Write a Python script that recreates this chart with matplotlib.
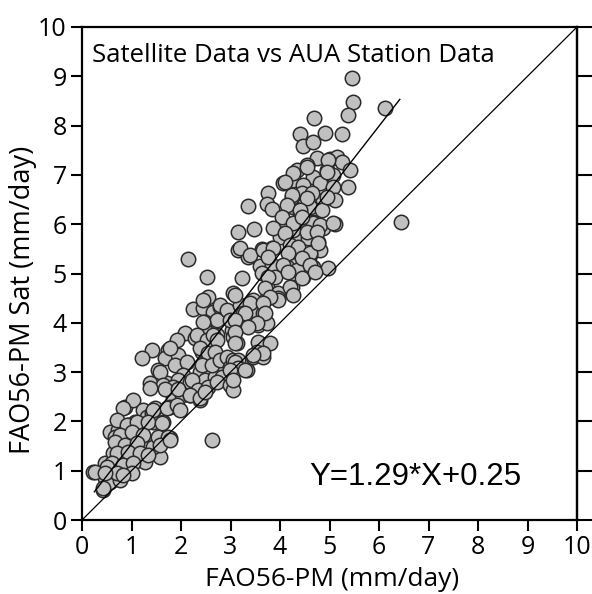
import matplotlib
matplotlib.use("Agg")
import matplotlib.pyplot as plt
import numpy as np

# Station (x) vs satellite (y) reference evapotranspiration, mm/day
station = [
    5.45, 5.47, 5.37, 6.12, 4.69, 4.40, 4.91, 5.25, 4.46, 4.67, 4.75, 5.01, 5.15, 5.25, 5.41, 4.55, 4.34, 4.95,
    4.67, 5.07, 4.26, 4.81, 4.46, 5.37, 5.07, 4.44, 4.61, 5.11, 4.87, 4.26, 4.61, 4.85, 4.40, 4.67, 5.11, 4.87,
    4.46, 4.26, 4.34, 4.77, 4.57, 4.81, 4.61, 4.30, 4.67, 4.97, 4.46, 4.34, 4.24, 6.44,
    3.35, 3.15, 3.47, 3.76, 3.73, 3.83, 4.06, 3.15, 3.35, 3.63, 3.60, 3.84, 3.84, 4.00, 4.06, 4.24, 4.26, 4.14,
    4.20, 3.23, 2.52, 2.14, 2.55, 3.05, 3.73, 3.96, 4.20, 4.34, 3.90,
    4.97, 4.54, 4.27, 4.10, 4.95, 4.65, 4.24, 4.54, 4.95, 4.14, 4.40, 4.04, 4.27, 4.67, 4.81, 5.07, 4.44, 3.86,
    4.10, 4.55, 4.75, 3.19, 3.39, 3.66, 3.86, 4.20, 4.36, 4.61, 4.77, 3.76, 4.16, 4.44, 4.06, 4.61,
    2.24, 2.44, 2.65, 2.79, 2.48, 2.73, 2.08, 1.92, 2.28, 2.55, 2.73, 2.55, 1.74, 1.41, 1.21, 1.68, 1.94, 2.42,
    1.88, 2.12, 2.53, 2.69, 2.85, 1.54, 2.04, 2.38, 2.55, 2.75, 1.37, 1.72, 1.94, 2.18, 2.48, 2.69, 2.89,
    0.22, 0.46, 0.57, 0.46, 0.42, 0.57, 0.77, 0.67, 0.87, 1.01, 1.03, 0.63, 0.71, 0.57, 0.73, 0.67, 0.77, 0.91,
    0.87, 1.03, 0.93, 1.07, 1.17, 1.23, 1.31, 1.41, 1.47, 1.43, 1.64, 1.62, 1.78, 1.54, 1.31, 1.23, 1.27, 1.07,
    1.17, 1.58, 1.43, 1.58, 1.64, 1.78, 1.84, 1.94, 1.84, 2.02, 1.78, 2.22, 2.18, 2.34, 2.38, 2.44, 2.79, 2.93,
    2.44, 2.32, 2.53, 2.65, 2.73, 2.38, 2.55, 2.69, 2.42, 2.63, 2.79, 2.93, 2.99, 3.05, 3.15, 2.83, 2.55, 2.73,
    2.99, 3.05, 3.33, 3.45, 3.03, 3.05, 3.13, 2.99, 3.19, 3.25, 3.39, 3.56, 3.54, 3.66, 3.74, 3.56, 3.80, 3.54,
    3.66, 3.74, 3.96, 4.26, 3.45,
    3.64, 3.76, 4.16, 4.44, 4.71, 3.70, 3.96, 3.80, 3.09, 3.39, 3.66, 3.70, 3.29, 3.09, 3.54, 3.35, 3.09, 3.09,
    3.66, 3.45, 3.09, 3.15, 3.29, 2.99, 3.05,
    1.37, 1.68, 1.94, 2.18, 2.38, 2.48, 0.83, 1.43, 1.72, 1.92, 1.98, 0.71, 0.91, 1.11, 1.33, 1.62, 0.77, 1.01,
    1.23, 1.54, 1.74, 0.67, 0.87, 1.11, 1.58, 1.78, 2.63, 0.71, 0.93, 1.17, 1.33, 0.61, 0.83, 1.03, 0.51, 0.26,
    0.71, 1.01, 0.46, 0.83, 0.42,
]
satellite = [
    8.97, 8.48, 8.21, 8.36, 8.15, 7.83, 7.85, 7.83, 7.59, 7.67, 7.34, 7.32, 7.36, 7.26, 7.10, 7.20, 7.10, 7.10,
    6.96, 7.00, 6.90, 6.84, 6.80, 6.75, 6.75, 6.63, 6.55, 6.49, 6.49, 6.35, 6.35, 6.29, 6.23, 6.04, 6.00, 5.92,
    5.94, 5.94, 5.74, 5.64, 5.72, 5.48, 5.38, 5.42, 5.13, 5.11, 4.93, 5.27, 4.73, 6.04,
    6.37, 5.84, 5.90, 6.63, 6.41, 6.30, 6.84, 5.48, 5.34, 5.49, 5.16, 5.51, 5.17, 5.74, 6.08, 6.55, 5.88, 5.14,
    5.44, 4.90, 4.93, 5.30, 4.53, 4.60, 4.73, 4.60, 4.73, 5.07, 4.93,
    7.30, 7.16, 7.04, 6.86, 7.06, 6.63, 6.59, 6.53, 6.55, 6.39, 6.29, 6.15, 6.02, 6.02, 5.98, 6.02, 6.15, 5.92,
    5.82, 5.84, 5.84, 5.52, 5.38, 5.48, 5.52, 5.58, 5.54, 5.42, 5.62, 5.33, 5.42, 5.31, 5.17, 5.17,
    4.28, 4.30, 4.22, 4.32, 4.02, 4.06, 3.79, 3.65, 3.69, 3.79, 3.75, 3.65, 3.45, 3.45, 3.29, 3.29, 3.35, 3.41,
    3.14, 3.20, 3.25, 3.35, 3.25, 3.04, 2.94, 3.00, 3.10, 3.04, 2.78, 2.78, 2.84, 2.80, 2.84, 2.90, 2.88,
    0.97, 1.16, 1.12, 0.85, 0.61, 0.77, 0.81, 0.97, 1.08, 1.16, 1.26, 1.36, 1.28, 1.78, 1.83, 1.68, 1.56, 1.58,
    2.29, 2.43, 1.93, 1.99, 1.93, 2.23, 2.09, 2.17, 2.27, 1.99, 1.99, 1.68, 1.66, 1.52, 1.58, 1.48, 1.18, 1.36,
    1.72, 1.28, 1.48, 3.00, 2.74, 3.49, 2.70, 2.64, 2.49, 2.54, 2.29, 2.84, 2.54, 2.64, 2.43, 4.46, 4.36, 4.26,
    4.02, 3.75, 3.65, 3.75, 3.65, 3.49, 3.39, 3.41, 3.14, 3.14, 3.25, 3.31, 3.10, 3.25, 3.25, 2.90, 2.70, 2.80,
    2.74, 2.64, 3.04, 3.31, 3.85, 3.71, 3.59, 4.06, 4.36, 4.20, 4.06, 3.96, 4.22, 4.20, 4.00, 3.61, 3.59, 3.41,
    3.31, 4.50, 4.50, 4.56, 4.46,
    5.01, 4.93, 5.03, 4.91, 5.03, 4.71, 4.46, 4.52, 4.56, 4.40, 4.40, 4.20, 4.20, 4.06, 4.00, 3.91, 3.81, 3.59,
    3.39, 3.35, 3.20, 3.08, 3.04, 3.04, 2.84,
    2.68, 2.66, 2.66, 2.53, 2.47, 2.60, 2.27, 2.23, 2.27, 2.33, 2.23, 2.03, 1.93, 1.99, 1.99, 1.97, 1.72, 1.78,
    1.72, 1.68, 1.68, 1.58, 1.52, 1.56, 1.52, 1.62, 1.62, 1.36, 1.38, 1.36, 1.32, 1.16, 1.12, 1.16, 1.08, 0.97,
    0.95, 0.95, 0.95, 0.91, 0.65,
]

slope = 1.29
intercept = 0.25
fit_range = [0.25, 6.42]
one_to_one = [0, 10]
ticks = list(range(0, 11))

plt.rcParams['font.family'] = ['Open Sans', 'DejaVu Sans']

fig = plt.figure(figsize=(5.92, 5.94), dpi=100)
ax = fig.add_axes([82 / 592, 1 - 520 / 594, 495 / 592, 493 / 594])

ax.scatter(station, satellite, s=108, facecolor='#c0c0c0', edgecolor='#2a2a2a',
           linewidth=1.1, zorder=2)

fx = np.array(fit_range)
ax.plot(fx, slope * fx + intercept, color='black', lw=1.0, zorder=3)
ax.plot(one_to_one, one_to_one, color='black', lw=0.9, zorder=3)

ax.set_xlim(0, 10)
ax.set_ylim(0, 10)
ax.set_xticks(ticks)
ax.set_yticks(ticks)
ax.tick_params(axis='both', direction='out', length=8, width=1.5, labelsize=18,
               pad=3)
for sp in ax.spines.values():
    sp.set_linewidth(1.6)

# right-hand ticks (longer, unlabeled)
sec = ax.secondary_yaxis('right')
sec.set_yticks(ticks)
sec.tick_params(direction='out', length=14, width=1.5, labelright=False)
sec.spines['right'].set_linewidth(1.6)

ax.text(0.2, 9.42, 'Satellite Data vs AUA Station Data', fontsize=18.5, va='center',
        ha='left')
ax.text(4.6, 0.87, 'Y=1.29*X+0.25', fontsize=22.5, va='center', ha='left',
        family=['Liberation Sans'])

fig.text(332 / 592, 1 - 586 / 594, 'FAO56-PM (mm/day)', fontsize=19,
         ha='center', va='baseline')
fig.text(23 / 592, 1 - 300 / 594, 'FAO56-PM Sat (mm/day)', fontsize=19.5,
         ha='center', va='center', rotation=90)

fig.savefig('out.png', dpi=100)
